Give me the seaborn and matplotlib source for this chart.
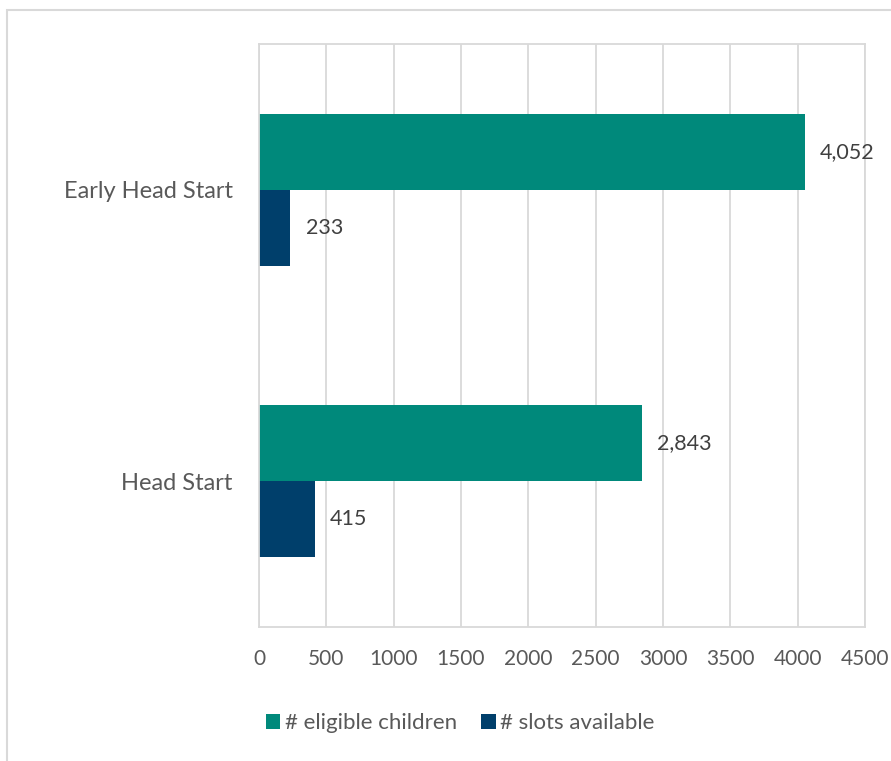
import pandas as pd
import numpy as np
import matplotlib.pyplot as plt
import seaborn as sns
from matplotlib.patches import Rectangle

# data
programs = ['Early Head Start', 'Head Start']
eligible_children = [4052, 2843]
slots_available = [233, 415]
series_names = ['# eligible children', '# slots available']
x_ticks = [0, 500, 1000, 1500, 2000, 2500, 3000, 3500, 4000, 4500]

df = pd.DataFrame({
    'program': programs * 2,
    'series': [series_names[0]] * 2 + [series_names[1]] * 2,
    'value': eligible_children + slots_available,
})

sns.set_style('white')
plt.rcParams['font.family'] = ['Lato', 'DejaVu Sans']

text_color = '#595959'
grid_color = '#d9d9d9'
colors = ['#00897b', '#003f6b']

fig = plt.figure(figsize=(8.91, 7.61), dpi=100)
ax = fig.add_axes([259 / 891, 1 - 627 / 761, (865 - 259) / 891, (627 - 44) / 761])

sns.barplot(data=df, y='program', x='value', hue='series', order=programs,
            hue_order=series_names, palette=colors, orient='h', width=0.52,
            saturation=1, linewidth=0, ax=ax, legend=True)

ax.set_xlim(0, 4500)
ax.set_ylim(1.5, -0.5)
ax.set_xticks(x_ticks)
ax.set_xticklabels([str(t) for t in x_ticks])
ax.set_xlabel('')
ax.set_ylabel('')
ax.grid(axis='x', color=grid_color, linewidth=1.3)
ax.set_axisbelow(True)
for sp in ax.spines.values():
    sp.set_color(grid_color)
    sp.set_linewidth(1.3)
ax.tick_params(axis='x', length=0, pad=16, labelsize=15, labelcolor=text_color)
ax.tick_params(axis='y', length=0, pad=19, labelsize=17, labelcolor=text_color)

# value labels
for container in ax.containers:
    ax.bar_label(container, labels=[f'{v:,.0f}' for v in container.datavalues],
                 padding=11, fontsize=15.5, color='#404040')

handles, labels = ax.get_legend_handles_labels()
ax.legend_.remove()
fig.legend(handles, labels, loc='center', bbox_to_anchor=(460 / 891, 1 - 723 / 761),
           ncol=2, frameon=False, fontsize=16, labelcolor=text_color,
           handlelength=0.65, handleheight=0.65, handletextpad=0.2, columnspacing=1.1)

# outer chart border
fig.patches.append(Rectangle((7 / 891, -0.1), 1.2, 1 - 10 / 761 + 0.1,
                             transform=fig.transFigure, fill=False,
                             edgecolor=grid_color, linewidth=1.5))

fig.savefig('out.png', dpi=100)
